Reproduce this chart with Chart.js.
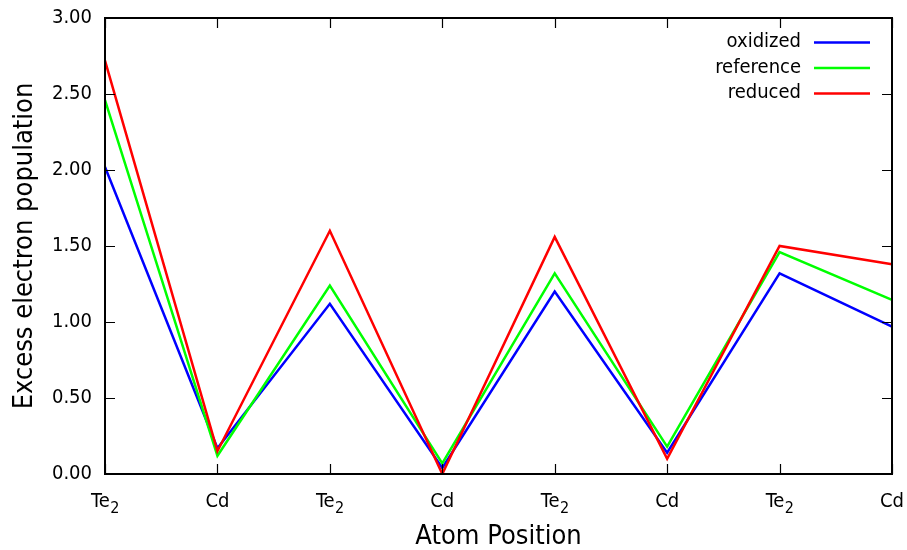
<!DOCTYPE html>
<html>
<head>
<meta charset="utf-8">
<script src="https://cdn.jsdelivr.net/npm/chart.js@4.4.1/dist/chart.umd.min.js"></script>
<style>
  html, body { margin: 0; background: #fff; }
</style>
</head>
<body>
<canvas id="chart" width="907" height="550"></canvas>
<script>
const positions = ["Te2", "Cd", "Te2", "Cd", "Te2", "Cd", "Te2", "Cd"]
const oxidized  = [2.02, 0.17, 1.12, 0.04, 1.20, 0.14, 1.32, 0.97]
const reference = [2.46, 0.12, 1.24, 0.07, 1.32, 0.18, 1.46, 1.145]
const reduced   = [2.72, 0.15, 1.60, 0.00, 1.56, 0.10, 1.50, 1.38]
const yTicks = [0, 0.5, 1, 1.5, 2, 2.5, 3]

const FONT = "DejaVu Sans Condensed"

// gnuplot-like frame: border on all sides with short inward ticks
const framePlugin = {
  id: "frame",
  afterDatasetsDraw(chart) {
    const { ctx, chartArea: a, scales: { x, y } } = chart
    ctx.save()
    ctx.strokeStyle = "#000"
    ctx.lineWidth = 1.2
    ctx.beginPath()
    yTicks.forEach(v => {
      const py = Math.round(y.getPixelForValue(v)) + 0.5
      ctx.moveTo(a.left, py); ctx.lineTo(a.left + 10, py)
      ctx.moveTo(a.right, py); ctx.lineTo(a.right - 10, py)
    })
    positions.forEach((_, i) => {
      const px = Math.round(x.getPixelForValue(i)) + 0.5
      ctx.moveTo(px, a.bottom); ctx.lineTo(px, a.bottom - 10)
      ctx.moveTo(px, a.top); ctx.lineTo(px, a.top + 10)
    })
    ctx.stroke()

    ctx.lineWidth = 2
    ctx.strokeRect(a.left, a.top, a.right - a.left, a.bottom - a.top)

    // category labels, trailing digits as subscript
    ctx.fillStyle = "#000"
    ctx.textBaseline = "alphabetic"
    ctx.textAlign = "left"
    positions.forEach((lab, i) => {
      const [, main, sub] = lab.match(/^(\D+)(\d*)$/)
      const px = x.getPixelForValue(i)
      ctx.font = `20px "${FONT}"`
      const wMain = ctx.measureText(main).width
      ctx.font = `16px "${FONT}"`
      const wSub = sub ? ctx.measureText(sub).width : 0
      const start = px - (wMain + wSub) / 2
      ctx.font = `20px "${FONT}"`
      ctx.fillText(main, start, a.bottom + 33)
      if (sub) {
        ctx.font = `16px "${FONT}"`
        ctx.fillText(sub, start + wMain + 0.5, a.bottom + 39)
      }
    })

    // key, top right, text to the left of the sample line
    ctx.font = `20px "${FONT}"`
    ctx.textAlign = "right"
    ctx.textBaseline = "middle"
    chart.data.datasets.forEach((ds, i) => {
      const ly = 42 + i * 25.5
      ctx.fillStyle = "#000"
      ctx.fillText(ds.label, 801, ly)
      ctx.strokeStyle = ds.borderColor
      ctx.lineWidth = 2.5
      ctx.beginPath()
      ctx.moveTo(814, ly + 0.5); ctx.lineTo(870, ly + 0.5)
      ctx.stroke()
    })
    ctx.restore()
  }
}

new Chart(document.getElementById("chart"), {
  type: "line",
  data: {
    labels: positions,
    datasets: [
      { label: "oxidized", data: oxidized, borderColor: "#0000ff", order: 2 },
      { label: "reference", data: reference, borderColor: "#00ff00", order: 1 },
      { label: "reduced", data: reduced, borderColor: "#ff0000", order: 0 },
    ].map(ds => ({ ...ds, borderWidth: 2.5, pointRadius: 0, tension: 0, fill: false })),
  },
  options: {
    responsive: false,
    devicePixelRatio: 1,
    animation: false,
    layout: { padding: { top: 18, right: 15, left: 0, bottom: 0 } },
    plugins: { legend: { display: false }, tooltip: { enabled: false } },
    scales: {
      x: {
        type: "category",
        offset: false,
        grid: { display: false, drawTicks: false },
        border: { display: false },
        ticks: { display: false },
        title: {
          display: true,
          text: "Atom Position",
          color: "#000",
          font: { family: FONT, size: 27, lineHeight: 1 },
          padding: { top: 0, bottom: 0 },
        },
        afterFit(scale) {
          scale.height = 76
          scale.paddingLeft = scale.paddingRight = 0
        },
      },
      y: {
        min: 0,
        max: 3,
        grid: { display: false, drawTicks: false, tickLength: 0 },
        border: { display: false },
        afterBuildTicks(scale) { scale.ticks = yTicks.map(v => ({ value: v })) },
        ticks: {
          color: "#000",
          padding: 13,
          font: { family: FONT, size: 20 },
          callback: v => v.toFixed(2),
        },
        title: {
          display: true,
          text: "Excess electron population",
          color: "#000",
          font: { family: FONT, size: 27, lineHeight: 1 },
          padding: { top: 11, bottom: 0 },
        },
        afterFit(scale) {
          scale.width = 105
          scale.paddingTop = scale.paddingBottom = 0
        },
      },
    },
  },
  plugins: [framePlugin],
})
</script>
</body>
</html>
